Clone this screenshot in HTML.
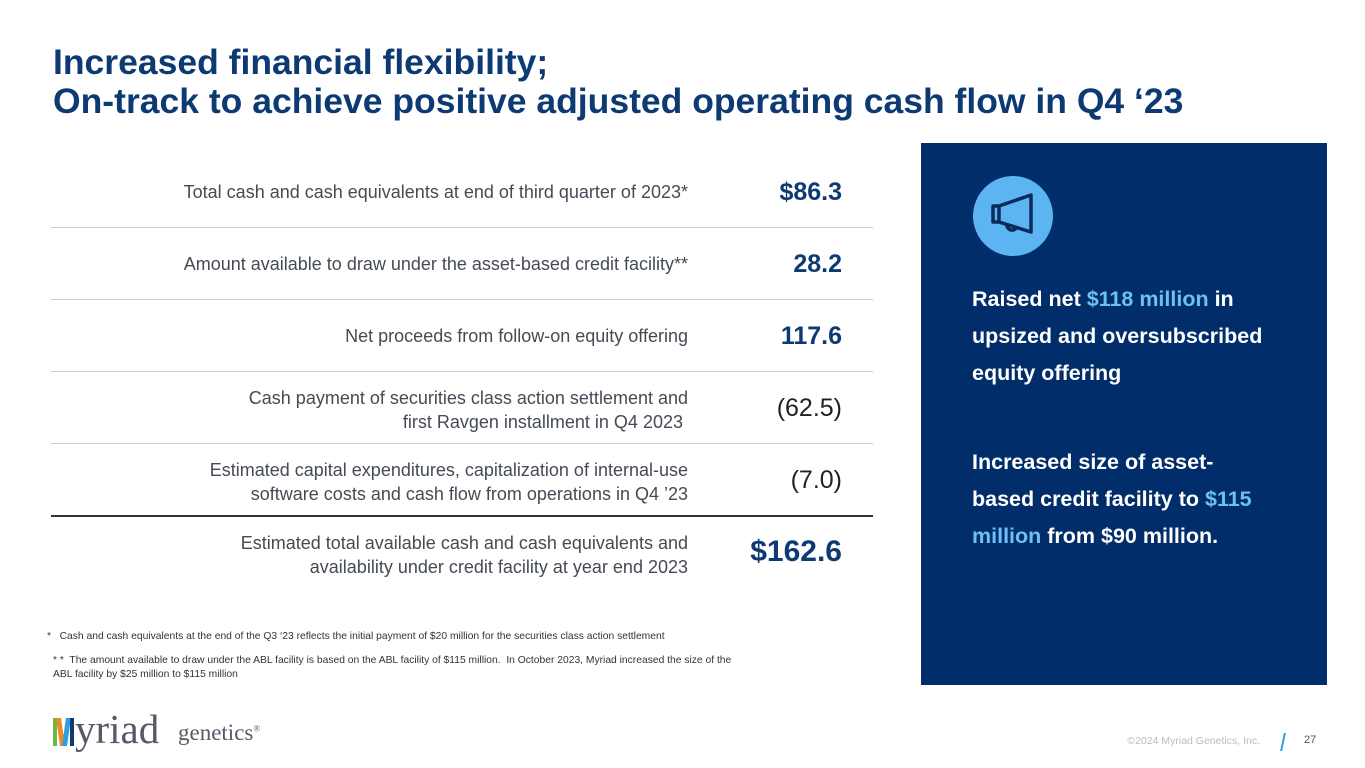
<!DOCTYPE html>
<html><head><meta charset="utf-8"><style>
*{margin:0;padding:0;box-sizing:border-box}
body{width:1365px;height:768px;background:#fff;position:relative;overflow:hidden;font-family:"Liberation Sans",sans-serif}
.a{position:absolute}
h1{position:absolute;left:53px;top:43px;font-size:35.5px;line-height:39px;color:#0e3a74;font-weight:bold;white-space:nowrap}
.lbl{position:absolute;right:677px;text-align:right;font-size:18px;color:#444b55;line-height:24px;white-space:nowrap}
.val{position:absolute;right:523px;text-align:right;font-size:25px;color:#0e3a74;font-weight:bold}
.hr{position:absolute;left:51px;width:822px;height:1px;background:#ccc}
.p{color:#fff;font-size:21.5px;font-weight:bold;line-height:37px;white-space:nowrap}
.h{color:#6cc0f5}
.fn{position:absolute;font-size:10.3px;color:#333;line-height:14px;white-space:nowrap}
</style></head><body>
<h1>Increased financial flexibility;<br>On-track to achieve positive adjusted operating cash flow in Q4 ‘23</h1>

<div class="lbl" style="top:180px">Total cash and cash equivalents at end of third quarter of 2023*</div>
<div class="val" style="top:178px">$86.3</div>
<div class="hr" style="top:227px"></div>
<div class="lbl" style="top:252px">Amount available to draw under the asset-based credit facility**</div>
<div class="val" style="top:250px">28.2</div>
<div class="hr" style="top:299px"></div>
<div class="lbl" style="top:324px">Net proceeds from follow-on equity offering</div>
<div class="val" style="top:322px">117.6</div>
<div class="hr" style="top:371px"></div>
<div class="lbl" style="top:386px">Cash payment of securities class action settlement and<br>first Ravgen installment in Q4 2023&nbsp;</div>
<div class="val" style="top:394px;font-weight:normal;color:#222">(62.5)</div>
<div class="hr" style="top:443px"></div>
<div class="lbl" style="top:458px">Estimated capital expenditures, capitalization of internal-use<br>software costs and cash flow from operations in Q4 ’23</div>
<div class="val" style="top:466px;font-weight:normal;color:#222">(7.0)</div>
<div class="hr" style="top:515px;height:2px;background:#333"></div>
<div class="lbl" style="top:531px">Estimated total available cash and cash equivalents and<br>availability under credit facility at year end 2023</div>
<div class="val" style="top:535px;font-size:30px">$162.6</div>

<div class="fn" style="left:47px;top:630px">*&nbsp;&nbsp; Cash and cash equivalents at the end of the Q3 ‘23 reflects the initial payment of $20 million for the securities class action settlement</div>
<div class="fn" style="left:53px;top:654px">* *&nbsp; The amount available to draw under the ABL facility is based on the ABL facility of $115 million.&nbsp; In October 2023, Myriad increased the size of the<br>ABL facility by $25 million to $115 million</div>

<div class="a" style="left:921px;top:143px;width:406px;height:542px;background:#012d6b">
  <div class="a" style="left:52px;top:33px;width:80px;height:80px;border-radius:50%;background:#5cb5f1"></div>
  <svg class="a" style="left:52px;top:33px" width="80" height="80" viewBox="0 0 80 80"><g fill="none" stroke="#0b2a5c" stroke-width="3.5" stroke-linejoin="round"><path d="M20 30 H26 L58 19 V56 L26 46 H20 Z"/><path d="M26 30 V46"/><path d="M34 48 a5 5 0 0 0 10 2"/></g></svg>
  <div class="a p" style="left:51px;top:138px">Raised net <span class="h">$118 million</span> in<br>upsized and oversubscribed<br>equity offering</div>
  <div class="a p" style="left:51px;top:301px">Increased size of asset-<br>based credit facility to <span class="h">$115</span><br><span class="h">million</span> from $90 million.</div>
</div>

<div class="a" style="left:53px;top:718px;width:4px;height:28px;background:#6bb843"></div>
<div class="a" style="left:58px;top:718px;width:5px;height:28px;background:#f08a24;transform:skewX(8deg)"></div>
<div class="a" style="left:64px;top:718px;width:5px;height:28px;background:#2e9ee0;transform:skewX(-8deg)"></div>
<div class="a" style="left:70px;top:718px;width:4px;height:28px;background:#0e3a74"></div>
<div class="a" style="left:75px;top:705px;font-family:'Liberation Serif',serif;font-size:41px;color:#555a66">yriad</div>
<div class="a" style="left:178px;top:720px;font-family:'Liberation Serif',serif;font-size:23px;color:#555a66">genetics<sup style="font-size:9px">®</sup></div>

<div class="a" style="left:1060px;top:735px;font-size:10.5px;color:#bbb;width:200px;text-align:right;white-space:nowrap">©2024 Myriad Genetics, Inc.</div>
<div class="a" style="left:1282px;top:733px;width:2px;height:18px;background:#2e9ee0;transform:skewX(-12deg)"></div>
<div class="a" style="left:1304px;top:734px;font-size:11px;color:#555">27</div>
</body></html>
